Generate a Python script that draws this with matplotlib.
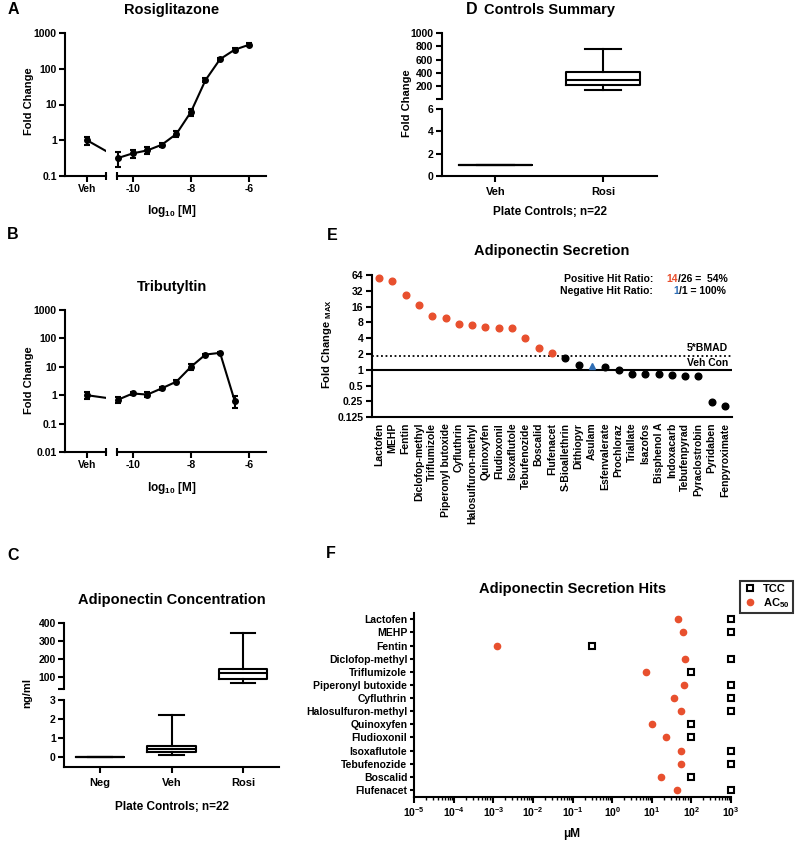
import matplotlib
matplotlib.use("Agg")
import matplotlib.pyplot as plt
from matplotlib.ticker import NullLocator, LogLocator, LogFormatterMathtext
from matplotlib.lines import Line2D

plt.rcParams['font.family'] = ['Liberation Sans', 'DejaVu Sans']
plt.rcParams['font.weight'] = 'bold'
plt.rcParams['axes.labelweight'] = 'bold'
plt.rcParams['mathtext.default'] = 'regular'

W, H = 800, 842
RED = '#E8502E'
BLUE = '#2E6DB4'

# -------------------------------------------------
# Data
# -------------------------------------------------

# A: Rosiglitazone dose response
rosi_conc = [-10.5, -10, -9.5, -9, -8.5, -8, -7.5, -7, -6.5, -6]
rosi_fold = [0.32, 0.43, 0.52, 0.75, 1.5, 6.2, 48, 185, 340, 470]
rosi_sem = [0.14, 0.12, 0.11, 0.1, 0.3, 1.3, 6, 20, 35, 40]
rosi_veh = 1.0
rosi_veh_sem = 0.27

# B: Tributyltin dose response
tbt_conc = [-10.5, -10, -9.5, -9, -8.5, -8, -7.5, -7, -6.5]
tbt_fold = [0.7, 1.15, 1.05, 1.75, 3.0, 10, 27, 31, 0.65]
tbt_sem = [0.18, 0.12, 0.2, 0.2, 0.4, 2.5, 2, 2, 0.3]
tbt_veh = 1.0
tbt_veh_sem = 0.27

# C: adiponectin concentration (ng/ml), min/q1/median/q3/max
conc_groups = ['Neg', 'Veh', 'Rosi']
conc_min = [0, 0.14, 67]
conc_q1 = [0, 0.27, 87]
conc_med = [0, 0.41, 119]
conc_q3 = [0, 0.57, 145]
conc_max = [0, 2.19, 344]

# D: controls summary (fold change)
ctrl_groups = ['Veh', 'Rosi']
ctrl_min = [1, 140]
ctrl_q1 = [1, 210]
ctrl_med = [1, 290]
ctrl_q3 = [1, 415]
ctrl_max = [1, 760]

# E: adiponectin secretion, max fold change
sec_chems = ['Lactofen', 'MEHP', 'Fentin', 'Diclofop-methyl', 'Triflumizole',
             'Piperonyl butoxide', 'Cyfluthrin', 'Halosulfuron-methyl', 'Quinoxyfen',
             'Fludioxonil', 'Isoxaflutole', 'Tebufenozide', 'Boscalid', 'Flufenacet',
             'S-Bioallethrin', 'Dithiopyr', 'Asulam', 'Esfenvalerate', 'Prochloraz',
             'Triallate', 'Isazofos', 'Bisphenol A', 'Indoxacarb', 'Tebufenpyrad',
             'Pyraclostrobin', 'Pyridaben', 'Fenpyroximate']
sec_fold = [55, 49, 26.3, 16.9, 10.6, 9.7, 7.5, 7.1, 6.5, 6.4, 6.4, 4.0, 2.6, 2.1,
            1.68, 1.26, 1.19, 1.12, 0.98, 0.85, 0.83, 0.83, 0.79, 0.76, 0.75, 0.245, 0.204]
sec_hit = ['pos'] * 14 + ['none', 'none', 'neg'] + ['none'] * 10
bmad_cut = 1.87
veh_con = 1.0

# F: hits, AC50 and TCC (uM)
hit_chems = ['Lactofen', 'MEHP', 'Fentin', 'Diclofop-methyl', 'Triflumizole',
             'Piperonyl butoxide', 'Cyfluthrin', 'Halosulfuron-methyl', 'Quinoxyfen',
             'Fludioxonil', 'Isoxaflutole', 'Tebufenozide', 'Boscalid', 'Flufenacet']
hit_ac50 = [45, 60, 0.0012, 67, 7.3, 64, 36.6, 56, 10, 22.9, 54, 55, 16.7, 44.5]
hit_tcc = [1000, 1000, 0.3, 1000, 100, 1000, 1000, 1000, 100, 100, 1000, 1000, 100, 1000]

# -------------------------------------------------
# Helpers
# -------------------------------------------------

fig = plt.figure(figsize=(W / 100, H / 100), dpi=100)


def px_axes(x0, y0, x1, y1):
    return fig.add_axes([x0 / W, 1 - y1 / H, (x1 - x0) / W, (y1 - y0) / H])


def ftext(x, y, s, **kw):
    kw.setdefault('ha', 'center')
    kw.setdefault('va', 'center')
    return fig.text(x / W, 1 - y / H, s, **kw)


def style(ax):
    for s in ['top', 'right']:
        ax.spines[s].set_visible(False)
    for s in ax.spines.values():
        s.set_linewidth(1.5)
    ax.tick_params(direction='out', length=4, width=1.5, labelsize=7.5, pad=2)
    ax.patch.set_alpha(0)


def break_mark(ax, x, y):
    ax.plot([x], [y], marker='|', ms=6, mew=1.5, color='k',
            transform=ax.transAxes, clip_on=False)


VEH_X = -11.56


def dose_panel(y0, y1, conc, fold, sem, veh, veh_sem, ylim, yticks):
    axl = px_axes(65, y0, 106, y1)
    axr = px_axes(117, y0, 266, y1)
    for ax in (axl, axr):
        style(ax)
        ax.set_yscale('log')
        ax.set_ylim(*ylim)
        ax.yaxis.set_minor_locator(NullLocator())
    axl.set_xlim(-12.305, -10.915)
    axr.set_xlim(-10.542, -5.42)
    axl.set_yticks(yticks)
    axl.set_yticklabels([f'{t:g}' for t in yticks])
    axr.spines['left'].set_visible(False)
    axr.tick_params(left=False, labelleft=False)
    axl.set_xticks([VEH_X])
    axl.set_xticklabels(['Veh'])
    axr.set_xticks([-10, -8, -6])
    axr.set_xticklabels(['-10', '-8', '-6'])

    axl.plot([VEH_X, conc[0]], [veh, fold[0]], color='k', lw=1.5)
    axl.errorbar([VEH_X], [veh], yerr=[veh_sem], fmt='o', color='k', ms=4,
                 capsize=2.5, elinewidth=1.5, capthick=1.5)
    eb = axr.errorbar(conc, fold, yerr=sem, fmt='-o', color='k', ms=4, lw=1.5,
                      capsize=2.5, elinewidth=1.5, capthick=1.5)
    eb.lines[0].set_clip_on(False)
    for a in eb.lines[1] + eb.lines[2]:
        a.set_clip_on(False)
    break_mark(axl, 1, 0)
    break_mark(axr, 0, 0)


def box_panel(ax, lo, q1, med, q3, hi, width):
    # only draw the groups that sit inside this segment of the broken axis
    y0, y1 = ax.get_ylim()
    stats, pos = [], []
    for i, (a, b, c, d, e) in enumerate(zip(lo, q1, med, q3, hi)):
        if a >= y0 and e <= y1:
            stats.append(dict(whislo=a, q1=b, med=c, q3=d, whishi=e, fliers=[]))
            pos.append(i)
    ax.bxp(stats, positions=pos, widths=width, capwidths=width / 2,
           showfliers=False, manage_ticks=False,
           boxprops=dict(lw=1.5, color='k'), medianprops=dict(lw=1.5, color='k'),
           whiskerprops=dict(lw=1.5, color='k'), capprops=dict(lw=1.5, color='k'))


# -------------------------------------------------
# A + B
# -------------------------------------------------
dose_panel(33, 176, rosi_conc, rosi_fold, rosi_sem, rosi_veh, rosi_veh_sem,
           (0.1, 1000), [0.1, 1, 10, 100, 1000])
ftext(172, 10, 'Rosiglitazone', fontsize=10.5)
ftext(172, 211, 'log$_{10}$ [M]', fontsize=8.5)
ftext(29, 101, 'Fold Change', rotation=90, fontsize=8)
ftext(13, 10, 'A', fontsize=11.5)

dose_panel(310, 452, tbt_conc, tbt_fold, tbt_sem, tbt_veh, tbt_veh_sem,
           (0.01, 1000), [0.01, 0.1, 1, 10, 100, 1000])
ftext(172, 287, 'Tributyltin', fontsize=10.5)
ftext(172, 488, 'log$_{10}$ [M]', fontsize=8.5)
ftext(29, 380, 'Fold Change', rotation=90, fontsize=8)
ftext(13, 235, 'B', fontsize=11.5)

# -------------------------------------------------
# C
# -------------------------------------------------
axc_t = px_axes(64, 623.3, 279, 689)
axc_b = px_axes(64, 700, 279, 766.7)
axc_t.set_ylim(31, 400)
axc_b.set_ylim(-0.5, 3)
for ax in (axc_t, axc_b):
    style(ax)
    ax.set_xlim(-0.5, 2.5)
    box_panel(ax, conc_min, conc_q1, conc_med, conc_q3, conc_max, 0.67)
axc_t.set_yticks([31, 100, 200, 300, 400])
axc_t.set_yticklabels(['', '100', '200', '300', '400'])
axc_t.spines['bottom'].set_visible(False)
axc_t.tick_params(bottom=False, labelbottom=False)
axc_b.set_yticks([0, 1, 2, 3])
axc_b.set_xticks(range(len(conc_groups)))
axc_b.set_xticklabels(conc_groups, fontsize=8)
axc_b.tick_params(axis='x', pad=4)
ftext(172, 600, 'Adiponectin Concentration', fontsize=10.5)
ftext(172, 807, 'Plate Controls; n=22', fontsize=8.5)
ftext(27, 693, 'ng/ml', rotation=90, fontsize=8)
ftext(13, 555, 'C', fontsize=11.5)

# -------------------------------------------------
# D
# -------------------------------------------------
axd_t = px_axes(441.7, 33, 656.7, 99)
axd_b = px_axes(441.7, 109.3, 656.7, 175.7)
axd_t.set_ylim(6, 1000)
axd_b.set_ylim(0, 6)
for ax in (axd_t, axd_b):
    style(ax)
    ax.set_xlim(-0.5, 1.5)
    box_panel(ax, ctrl_min, ctrl_q1, ctrl_med, ctrl_q3, ctrl_max, 0.68)
axd_t.set_yticks([6, 200, 400, 600, 800, 1000])
axd_t.set_yticklabels(['', '200', '400', '600', '800', '1000'])
axd_t.spines['bottom'].set_visible(False)
axd_t.tick_params(bottom=False, labelbottom=False)
axd_b.set_yticks([0, 2, 4, 6])
axd_b.set_xticks(range(len(ctrl_groups)))
axd_b.set_xticklabels(ctrl_groups, fontsize=8)
axd_b.tick_params(axis='x', pad=4)
ftext(549, 10, 'Controls Summary', fontsize=10.5)
ftext(550, 212, 'Plate Controls; n=22', fontsize=8.5)
ftext(407, 103, 'Fold Change', rotation=90, fontsize=8)
ftext(472, 10, 'D', fontsize=11.5)

# -------------------------------------------------
# E
# -------------------------------------------------
axe = px_axes(371.7, 275, 731.7, 417.3)
style(axe)
axe.set_yscale('log', base=2)
axe.set_ylim(0.125, 64)
axe.yaxis.set_minor_locator(NullLocator())
yt = [0.125, 0.25, 0.5, 1, 2, 4, 8, 16, 32, 64]
axe.set_yticks(yt)
axe.set_yticklabels([f'{t:g}' for t in yt])
axe.set_xlim(-0.55, len(sec_chems) - 0.5)
axe.axhline(veh_con, color='k', lw=1.5)
axe.axhline(bmad_cut, color='k', lw=1.3, ls=(0, (1, 1.5)))
hit_style = {'pos': (RED, 'o'), 'none': ('k', 'o'), 'neg': (BLUE, '^')}
for i, (v, h) in enumerate(zip(sec_fold, sec_hit)):
    c, m = hit_style[h]
    axe.plot(i, v, marker=m, color=c, ms=4.8, ls='none', clip_on=False, zorder=3)
axe.set_xticks(range(len(sec_chems)))
axe.set_xticklabels(sec_chems, rotation=90, fontsize=7.5)
axe.tick_params(axis='x', length=0, pad=4)
ftext(728, 348, '5*BMAD', ha='right', fontsize=7.5)
ftext(728, 363, 'Veh Con', ha='right', fontsize=7.5)
ftext(551.7, 251, 'Adiponectin Secretion', fontsize=10.5)
ftext(327, 344, 'Fold Change $_{MAX}$', rotation=90, fontsize=8)
ftext(332, 236, 'E', fontsize=11.5)

renderer = fig.canvas.get_renderer()


def chain_left(x, y, parts, size):
    for s, c in parts:
        t = ftext(x, y, s, ha='left', color=c, fontsize=size)
        x = t.get_window_extent(renderer).x1


ftext(653, 279, 'Positive Hit Ratio:', ha='right', fontsize=7.5)
chain_left(666, 279, [('14', RED), ('/26 =  54%', 'k')], 7.5)
ftext(653, 291, 'Negative Hit Ratio:', ha='right', fontsize=7.5)
chain_left(673, 291, [('1', BLUE), ('/1 = 100%', 'k')], 7.5)

# -------------------------------------------------
# F
# -------------------------------------------------
axf = px_axes(414.3, 612.7, 731, 797.3)
style(axf)
axf.set_xscale('log')
axf.set_xlim(1e-5, 1e3)
axf.set_ylim(len(hit_chems) - 0.44, -0.5)
axf.xaxis.set_major_locator(LogLocator(base=10, numticks=20))
axf.xaxis.set_major_formatter(LogFormatterMathtext())
axf.xaxis.set_minor_locator(LogLocator(base=10, subs=range(2, 10), numticks=100))
axf.tick_params(axis='x', which='minor', length=2, width=1)
axf.set_yticks(range(len(hit_chems)))
axf.set_yticklabels(hit_chems, fontsize=7.5)
axf.tick_params(axis='y', length=3)
ypos = list(range(len(hit_chems)))
axf.plot(hit_ac50, ypos, 'o', color=RED, ms=4.5, clip_on=False, zorder=3)
axf.plot(hit_tcc, ypos, 's', mfc='white', mec='k', mew=1.5, ms=5, clip_on=False, zorder=3)
handles = [Line2D([], [], marker='s', ls='none', mfc='white', mec='k', mew=1.5, ms=5),
           Line2D([], [], marker='o', ls='none', color=RED, ms=4.5)]
leg = axf.legend(handles, ['TCC', 'AC$_{50}$'], loc='upper left',
                 bbox_to_anchor=(740 / W, 1 - 580.7 / H), bbox_transform=fig.transFigure,
                 frameon=True, fancybox=False, fontsize=8, handlelength=1.2,
                 handletextpad=0.6, borderpad=0.3, labelspacing=0.2, borderaxespad=0)
leg.get_frame().set_edgecolor('k')
leg.get_frame().set_linewidth(1.5)
ftext(573, 589, 'Adiponectin Secretion Hits', fontsize=10.5)
ftext(572, 834, 'μM', fontsize=8.5)
ftext(331, 553, 'F', fontsize=11.5)

fig.savefig('out.png', dpi=100)
